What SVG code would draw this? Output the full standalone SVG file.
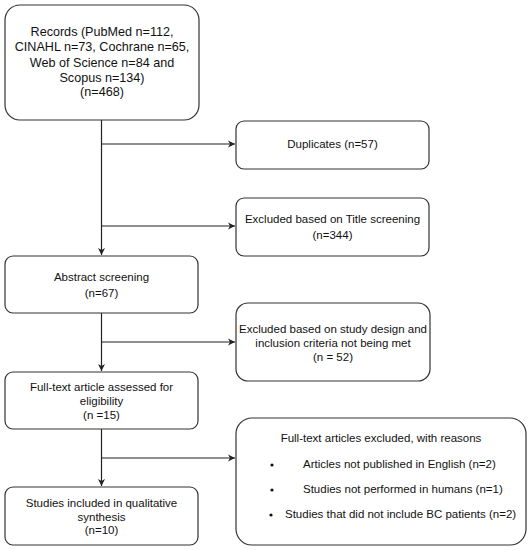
<svg xmlns="http://www.w3.org/2000/svg" width="531" height="550" viewBox="0 0 531 550">
<defs>
<marker id="arr" markerWidth="8" markerHeight="8" refX="7" refY="4" orient="auto" markerUnits="userSpaceOnUse">
<path d="M0,0.5 L7,4 L0,7.5 L2,4 Z" fill="#222"/>
</marker>
<style>
.box{fill:#fff;stroke:#333;stroke-width:1.2}
.t{font-family:"Liberation Sans",Arial,sans-serif;font-size:11.5px;fill:#111;text-anchor:middle}
.tl{font-family:"Liberation Sans",Arial,sans-serif;font-size:12.6px;fill:#111;text-anchor:middle}
.ts{font-family:"Liberation Sans",Arial,sans-serif;font-size:11.5px;fill:#111}
.c{fill:none;stroke:#222;stroke-width:1.2}
</style>
</defs>
<rect width="531" height="550" fill="#fff"/>
<g id="connectors">
<path class="c" d="M101.5,120 V255" marker-end="url(#arr)"/>
<path class="c" d="M101.5,144 H235" marker-end="url(#arr)"/>
<path class="c" d="M101.5,226 H235" marker-end="url(#arr)"/>
<path class="c" d="M101.5,313 V371" marker-end="url(#arr)"/>
<path class="c" d="M101.5,342 H235" marker-end="url(#arr)"/>
<path class="c" d="M101.5,429 V486" marker-end="url(#arr)"/>
<path class="c" d="M101.5,458 H235" marker-end="url(#arr)"/>
</g>
<g id="records">
<rect class="box" x="5" y="5" width="194" height="115" rx="15"/>
<text class="tl" x="102" y="36">Records (PubMed n=112,</text>
<text class="tl" x="102" y="51">CINAHL n=73, Cochrane n=65,</text>
<text class="tl" x="102" y="67">Web of Science n=84 and</text>
<text class="tl" x="102" y="82">Scopus n=134)</text>
<text class="tl" x="102" y="96">(n=468)</text>
</g>
<g id="duplicates">
<rect class="box" x="236" y="121" width="193" height="48" rx="8"/>
<text class="t" x="332.5" y="148">Duplicates (n=57)</text>
</g>
<g id="title-excluded">
<rect class="box" x="236" y="198" width="193" height="58" rx="8"/>
<text class="t" x="332.5" y="223">Excluded based on Title screening</text>
<text class="t" x="332.5" y="239">(n=344)</text>
</g>
<g id="abstract">
<rect class="box" x="5" y="256" width="193" height="57" rx="8"/>
<text class="t" x="101.5" y="281">Abstract screening</text>
<text class="t" x="101.5" y="297">(n=67)</text>
</g>
<g id="design-excluded">
<rect class="box" x="236" y="303" width="194" height="78" rx="12"/>
<text class="t" x="333" y="333">Excluded based on study design and</text>
<text class="t" x="333" y="347">inclusion criteria not being met</text>
<text class="t" x="333" y="361">(n = 52)</text>
</g>
<g id="fulltext">
<rect class="box" x="5" y="372" width="193" height="57" rx="8"/>
<text class="t" x="101.5" y="391">Full-text article assessed for</text>
<text class="t" x="101.5" y="405">eligibility</text>
<text class="t" x="101.5" y="419">(n =15)</text>
</g>
<g id="fulltext-excluded">
<rect class="box" x="236" y="418" width="290" height="127" rx="16"/>
<text class="t" x="381" y="442">Full-text articles excluded, with reasons</text>
<circle cx="272" cy="465" r="1.6" fill="#111"/>
<text class="ts" x="303" y="468">Articles not published in English (n=2)</text>
<circle cx="272" cy="490" r="1.6" fill="#111"/>
<text class="ts" x="303" y="493">Studies not performed in humans (n=1)</text>
<circle cx="271" cy="515" r="1.6" fill="#111"/>
<text class="ts" x="285" y="518">Studies that did not include BC patients (n=2)</text>
</g>
<g id="included">
<rect class="box" x="5" y="487" width="193" height="58" rx="8"/>
<text class="t" x="101.5" y="507">Studies included in qualitative</text>
<text class="t" x="101.5" y="521">synthesis</text>
<text class="t" x="101.5" y="534">(n=10)</text>
</g>
</svg>
